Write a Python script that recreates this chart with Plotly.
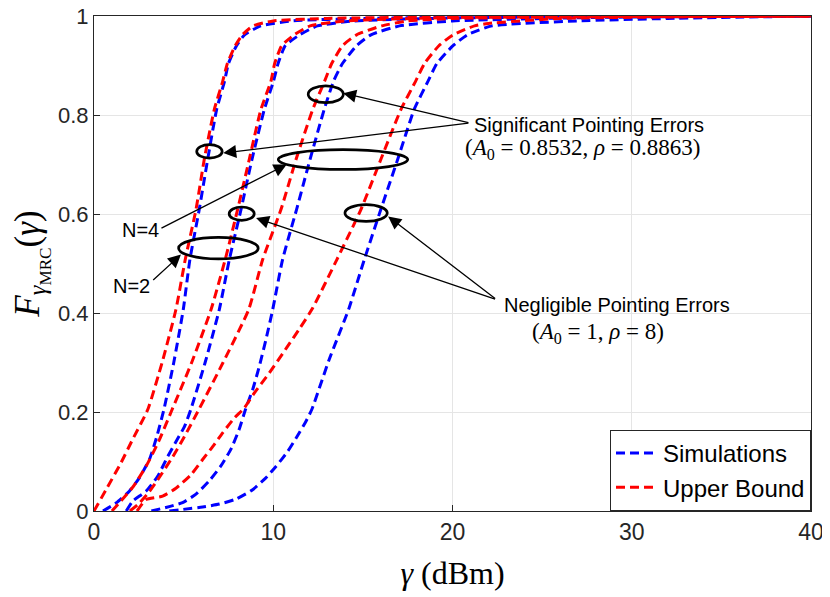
import plotly.graph_objects as go

# gamma (dBm) and CDF values per curve
# pair A (leftmost), B, C, D (rightmost)
sim_a_x = [0.5, 1.23, 1.97, 2.53, 3.1, 3.5, 3.9, 4.45, 4.98, 5.35, 5.87, 6.34, 6.84, 7.28, 7.5, 7.95, 8.4, 9.3, 11, 15, 20, 30, 40]
sim_a_y = [0, 0.016, 0.04, 0.067, 0.105, 0.15, 0.205, 0.3, 0.407, 0.508, 0.609, 0.71, 0.811, 0.868, 0.904, 0.94, 0.962, 0.98, 0.99, 0.995, 0.998, 0.999, 1.0]
ub_a_x = [0, 0.67, 1.5, 2.16, 3.0, 3.8, 4.57, 5.09, 5.69, 6.15, 6.71, 7.18, 7.44, 7.88, 8.28, 8.87, 10, 13, 20, 30, 40]
ub_a_y = [0, 0.043, 0.097, 0.145, 0.205, 0.3, 0.407, 0.508, 0.609, 0.71, 0.811, 0.868, 0.904, 0.94, 0.962, 0.98, 0.99, 0.995, 0.998, 0.999, 1.0]

sim_b_x = [1.8, 2.16, 2.9, 3.55, 4.11, 4.57, 5.04, 5.4, 6.2, 6.99, 7.55, 8.2, 8.81, 9.5, 10.01, 10.27, 10.67, 11.47, 12.46, 14.5, 20, 30, 40]
sim_b_y = [0, 0.02, 0.04, 0.07, 0.11, 0.14, 0.17, 0.205, 0.3, 0.407, 0.508, 0.609, 0.71, 0.811, 0.868, 0.904, 0.94, 0.962, 0.98, 0.99, 0.996, 0.999, 1.0]
ub_b_x = [1.0, 1.5, 2.2, 2.9, 3.6, 4.3, 5.45, 6.53, 7.32, 8.01, 8.66, 9.31, 9.87, 10.08, 10.47, 11.17, 12.06, 14, 20, 30, 40]
ub_b_y = [0, 0.02, 0.05, 0.09, 0.14, 0.2, 0.3, 0.407, 0.508, 0.609, 0.71, 0.811, 0.868, 0.904, 0.94, 0.962, 0.98, 0.99, 0.997, 0.999, 1.0]

sim_c_x = [3.2, 4.0, 4.94, 5.69, 6.43, 7.08, 7.64, 8.1, 8.45, 8.85, 9.22, 9.59, 9.97, 10.52, 11.3, 12.05, 12.84, 13.36, 13.86, 14.65, 15.45, 17.04, 20, 25, 30, 40]
sim_c_y = [0, 0.007, 0.017, 0.034, 0.061, 0.091, 0.125, 0.165, 0.205, 0.245, 0.292, 0.346, 0.407, 0.508, 0.609, 0.71, 0.811, 0.868, 0.904, 0.94, 0.962, 0.98, 0.99, 0.995, 0.998, 1.0]
ub_c_x = [2.0, 2.5, 3.0, 3.5, 4.4, 5.04, 5.85, 7.2, 8.63, 9.41, 10.43, 11.27, 12.2, 12.86, 13.26, 13.86, 14.65, 16.05, 17.5, 20, 30, 40]
ub_c_y = [0, 0.015, 0.035, 0.06, 0.11, 0.15, 0.205, 0.3, 0.407, 0.508, 0.609, 0.71, 0.811, 0.868, 0.904, 0.94, 0.962, 0.98, 0.99, 0.995, 0.999, 1.0]

sim_d_x = [4.2, 6.06, 6.99, 7.92, 8.85, 9.59, 10.15, 10.8, 11.27, 11.82, 12.15, 13.12, 14.2, 15.08, 16.0, 16.94, 17.86, 18.63, 19.13, 20.03, 20.83, 22.2, 27, 32, 40]
sim_d_y = [0, 0.008, 0.014, 0.024, 0.043, 0.067, 0.09, 0.12, 0.147, 0.181, 0.205, 0.306, 0.407, 0.508, 0.609, 0.71, 0.811, 0.868, 0.904, 0.94, 0.962, 0.98, 0.99, 0.995, 1.0]
ub_d_x = [2.4, 2.9, 3.83, 4.57, 5.41, 6.06, 6.62, 7.18, 7.83, 8.38, 8.94, 9.78, 10.75, 11.5, 12.2, 13.55, 14.89, 16.0, 17.12, 17.94, 18.44, 19.24, 20.03, 21.23, 22, 26, 32, 40]
ub_d_y = [0, 0.023, 0.03, 0.046, 0.073, 0.104, 0.13, 0.158, 0.188, 0.208, 0.238, 0.279, 0.33, 0.37, 0.41, 0.508, 0.609, 0.71, 0.811, 0.868, 0.904, 0.94, 0.962, 0.98, 0.985, 0.995, 0.998, 1.0]

sim_curves = [(sim_a_x, sim_a_y), (sim_b_x, sim_b_y), (sim_c_x, sim_c_y), (sim_d_x, sim_d_y)]
ub_curves = [(ub_a_x, ub_a_y), (ub_b_x, ub_b_y), (ub_c_x, ub_c_y), (ub_d_x, ub_d_y)]

# ellipses: centre x, centre y, half width, half height
ellipses = [(12.93, 0.842, 0.98, 0.017), (6.44, 0.7265, 0.71, 0.0135),
            (13.89, 0.71, 3.61, 0.02), (8.24, 0.6006, 0.70, 0.0135),
            (15.18, 0.602, 1.18, 0.0168), (6.94, 0.531, 2.22, 0.0216)]

# arrows: tail x, tail y, head x, head y
arrows = [(20.97, 0.784, 13.9, 0.844), (20.97, 0.784, 7.21, 0.723),
          (22.46, 0.427, 16.41, 0.595), (22.46, 0.427, 9.04, 0.592),
          (3.68, 0.57, 10.75, 0.70), (3.22, 0.464, 4.85, 0.518)]

SANS = "Liberation Sans, Arial, sans-serif"
SERIF = "Liberation Serif, Times New Roman, serif"

fig = go.Figure()

for i, (x, y) in enumerate(sim_curves):
    fig.add_trace(go.Scatter(x=x, y=y, mode="lines", name="Simulations",
                             line=dict(color="#0000FF", width=3, dash="9px,5px", shape="spline", smoothing=0.5),
                             showlegend=(i == 0), legendrank=1))
for i, (x, y) in enumerate(ub_curves):
    fig.add_trace(go.Scatter(x=x, y=y, mode="lines", name="Upper Bound",
                             line=dict(color="#FF0000", width=3, dash="9px,5px", shape="spline", smoothing=0.5),
                             showlegend=(i == 0), legendrank=2))

for cx, cy, hx, hy in ellipses:
    fig.add_shape(type="circle", xref="x", yref="y", x0=cx - hx, x1=cx + hx, y0=cy - hy, y1=cy + hy,
                  line=dict(color="black", width=2.7))

for tx, ty, hx, hy in arrows:
    fig.add_annotation(x=hx, y=hy, ax=tx, ay=ty, axref="x", ayref="y", xref="x", yref="y",
                       text="", showarrow=True, arrowhead=2, arrowsize=2.0, arrowwidth=1.3,
                       arrowcolor="black", standoff=0, startstandoff=0)

fig.add_annotation(x=21.08, y=0.780, text="Significant Pointing Errors", showarrow=False,
                   xanchor="left", font=dict(family=SANS, size=20, color="black"))
fig.add_annotation(x=27.27, y=0.732, text="(<i>A</i><sub>0</sub> = 0.8532, <i>ρ</i> = 0.8863)", showarrow=False,
                   font=dict(family=SERIF, size=23, color="black"))
fig.add_annotation(x=22.75, y=0.417, text="Negligible Pointing Errors", showarrow=False,
                   xanchor="left", font=dict(family=SANS, size=20, color="black"))
fig.add_annotation(x=28.1, y=0.36, text="(<i>A</i><sub>0</sub> = 1, <i>ρ</i> = 8)", showarrow=False,
                   font=dict(family=SERIF, size=23, color="black"))
fig.add_annotation(x=2.57, y=0.568, text="N=4", showarrow=False, font=dict(family=SANS, size=20, color="black"))
fig.add_annotation(x=2.09, y=0.454, text="N=2", showarrow=False, font=dict(family=SANS, size=20, color="black"))

fig.update_xaxes(range=[0, 40], tickvals=[0, 10, 20, 30, 40], showgrid=True, gridcolor="#e5e5e5", gridwidth=1,
                 showline=True, linecolor="#262626", linewidth=1, mirror=True, ticks="inside", ticklen=6,
                 tickcolor="#262626", zeroline=False, tickfont=dict(family=SANS, size=23, color="#262626"),
                 automargin=False, ticklabeloverflow="allow",
                 title=dict(text="<i>γ</i> (dBm)", font=dict(family=SERIF, size=32, color="black"), standoff=18))
fig.update_yaxes(range=[0, 1], tickvals=[0, 0.2, 0.4, 0.6, 0.8, 1], showgrid=True, gridcolor="#e5e5e5", gridwidth=1,
                 showline=True, linecolor="#262626", linewidth=1, mirror=True, ticks="inside", ticklen=6,
                 tickcolor="#262626", zeroline=False, tickfont=dict(family=SANS, size=22, color="#262626"),
                 automargin=False, ticklabeloverflow="allow",
                 title=dict(text="<i>F</i><sub><i>γ</i><sub>MRC</sub></sub>(<i>γ</i>)",
                            font=dict(family=SERIF, size=35, color="black"), standoff=14))

# page body adds an 8px offset, so the figure is 8px smaller than the window
fig.update_layout(width=822, height=589, autosize=False, plot_bgcolor="white", paper_bgcolor="white",
                  margin=dict(l=86, r=19, t=8, b=86),
                  legend=dict(x=1, y=0, xanchor="right", yanchor="bottom", bgcolor="white",
                              bordercolor="#262626", borderwidth=1, font=dict(family=SANS, size=24, color="black"),
                              tracegroupgap=0, itemwidth=42))

fig.write_html("out.html")
